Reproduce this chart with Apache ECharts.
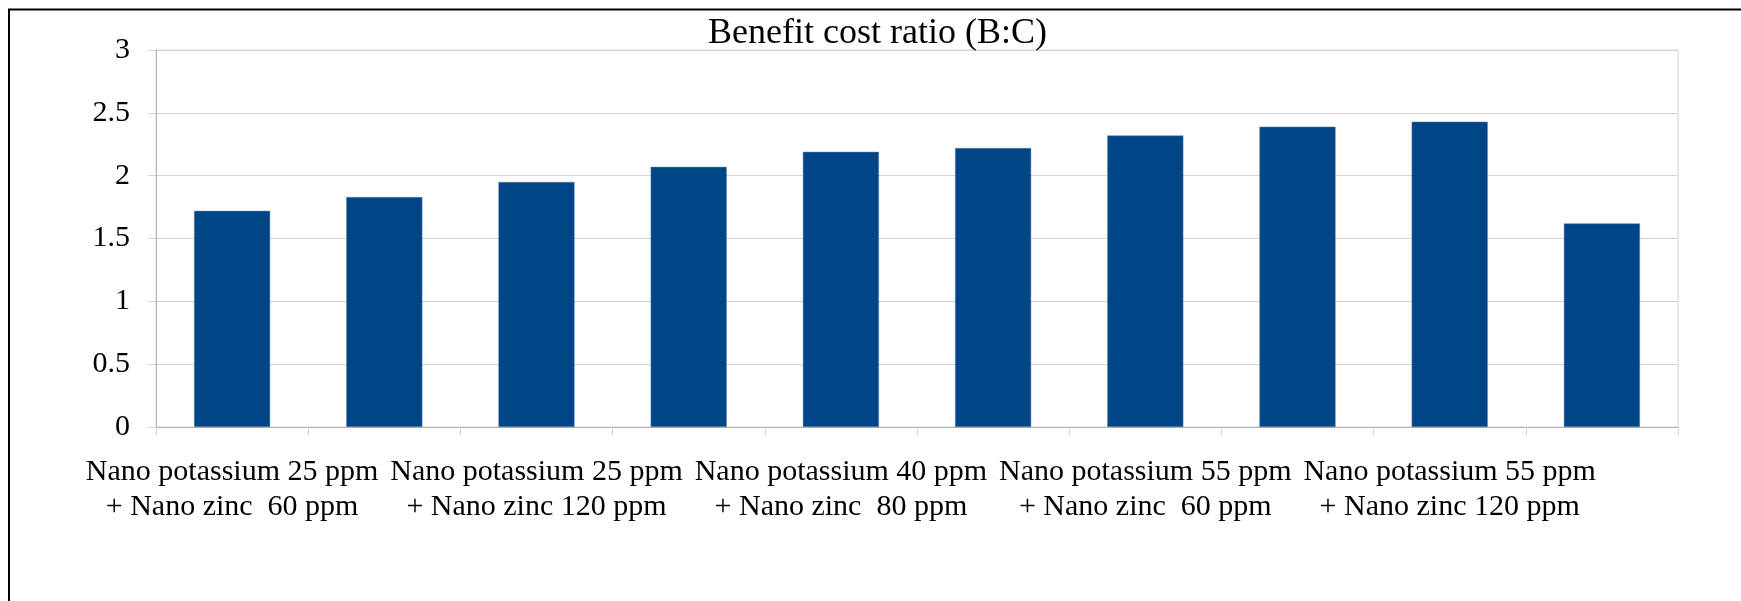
<!DOCTYPE html>
<html>
<head>
<meta charset="utf-8">
<title>Benefit cost ratio (B:C)</title>
<script src="https://cdn.jsdelivr.net/npm/echarts@6/dist/echarts.min.js"></script>
<style>
  html, body { margin: 0; padding: 0; background: #fff; }
  #chart { width: 1741px; height: 601px; }
</style>
</head>
<body>
<div id="chart"></div>
<script>
// treatments (only every other name is printed under the axis)
const categories = [
  "Nano potassium 25 ppm\n+ Nano zinc  60 ppm",
  "Nano potassium 25 ppm\n+ Nano zinc  80 ppm",
  "Nano potassium 25 ppm\n+ Nano zinc 120 ppm",
  "Nano potassium 40 ppm\n+ Nano zinc  60 ppm",
  "Nano potassium 40 ppm\n+ Nano zinc  80 ppm",
  "Nano potassium 40 ppm\n+ Nano zinc 120 ppm",
  "Nano potassium 55 ppm\n+ Nano zinc  60 ppm",
  "Nano potassium 55 ppm\n+ Nano zinc  80 ppm",
  "Nano potassium 55 ppm\n+ Nano zinc 120 ppm",
  "Control"
];
const bcRatio = [1.72, 1.83, 1.95, 2.07, 2.19, 2.22, 2.32, 2.39, 2.43, 1.62];
const yTicks = [0, 0.5, 1, 1.5, 2, 2.5, 3];

const font = "Liberation Serif";

let myChart = echarts.init(document.getElementById("chart"));

let option = {
  backgroundColor: "#ffffff",
  animation: false,
  title: {
    text: "Benefit cost ratio (B:C)",
    left: 703,
    top: 11,
    textStyle: {
      fontFamily: font,
      fontSize: 36,
      fontWeight: "normal",
      color: "#000000",
    },
  },
  grid: {
    left: 156,
    right: 63,
    top: 50,
    bottom: 174,
    show: true,
    borderColor: "#d4d4d4",
    borderWidth: 1,
  },
  xAxis: {
    type: "category",
    data: categories,
    axisLine: { lineStyle: { color: "#b3b3b3", width: 1 } },
    axisTick: {
      show: true,
      interval: 0,
      length: 8,
      lineStyle: { color: "#d4d4d4" },
    },
    axisLabel: {
      interval: 1,
      margin: 28,
      fontFamily: font,
      fontSize: 30,
      lineHeight: 35,
      color: "#000000",
    },
  },
  yAxis: {
    type: "value",
    min: yTicks[0],
    max: yTicks[yTicks.length - 1],
    interval: 0.5,
    axisLine: { show: true, lineStyle: { color: "#b3b3b3", width: 1 } },
    axisTick: { show: true, length: 8, lineStyle: { color: "#d4d4d4" } },
    splitLine: { lineStyle: { color: "#d4d4d4", width: 1 } },
    axisLabel: {
      margin: 26,
      fontFamily: font,
      fontSize: 30,
      color: "#000000",
    },
  },
  series: [
    {
      name: "B:C",
      type: "bar",
      data: bcRatio,
      barWidth: "50%",
      itemStyle: {
        color: "#004586",
        borderColor: "#5c85b0",
        borderWidth: 0.5,
      },
    },
  ],
  // black frame of the original picture (top and left edges only visible)
  graphic: [
    {
      type: "rect",
      shape: { x: 9, y: 9.5, width: 1800, height: 700 },
      style: { fill: "none", stroke: "#000000", lineWidth: 2 },
      silent: true,
    },
  ],
};

myChart.setOption(option);
</script>
</body>
</html>
